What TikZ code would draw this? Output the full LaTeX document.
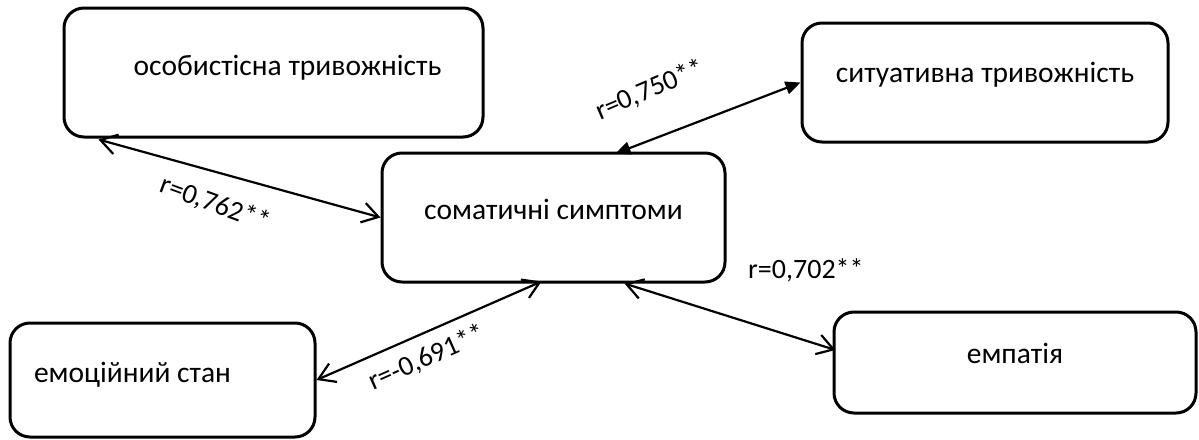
\documentclass[tikz,border=0pt]{standalone}
\usepackage{fontspec}
\setmainfont{Carlito}
\usetikzlibrary{arrows.meta,calc}
\begin{document}
\begin{tikzpicture}[x=1pt,y=-1pt,
  box/.style={draw, line width=3pt, rounded corners=20pt, inner sep=0pt},
  boxtext/.style={font=\fontsize{29.5}{35}\selectfont, anchor=base, inner sep=0pt},
  rlabel/.style={font=\fontsize{28}{32}\selectfont, inner sep=0pt},
  barb/.tip={Straight Barb[length=16pt,width=20pt,line width=2.2pt]},
  solidtip/.tip={Triangle[length=15pt,width=13pt]},
  link/.style={line width=2.2pt},
]
\useasboundingbox (0,0) rectangle (1199,439);

% boxes
\node (b1) [box, minimum width=419pt, minimum height=129pt] at (273.5,72.5) {};
\node (b2) [box, minimum width=366pt, minimum height=119pt] at (985,82.5) {};
\node (b3) [box, minimum width=343pt, minimum height=129pt] at (553.5,217.5) {};
\node (b4) [box, minimum width=305pt, minimum height=114pt] at (162.5,380) {};
\node (b5) [box, minimum width=362pt, minimum height=101pt] at (1015,362.5) {};

% box captions
\node (t1) [boxtext] at (287.5,75) {особистісна тривожність};
\node (t2) [boxtext] at (985,82) {ситуативна тривожність};
\node (t3) [boxtext] at (553.5,219) {соматичні симптоми};
\node (t4) [boxtext] at (132.5,382) {емоційний стан};
\node (t5) [boxtext] at (1015,363) {емпатія};

% correlations
\draw[link, barb-barb] ($(b1.south west)+(36,1)$) -- (b3.west);
\draw[link, solidtip-solidtip] ($(b3.north)+(62,2)$) -- (b2.west);
\draw[link, barb-barb] ($(b3.south)+(-12,-2)$) -- (b4.east);
\draw[link, barb-barb] ($(b3.south)+(71,0)$) -- ($(b5.west)+(3,-12.5)$);

% coefficients
\node (r1) [rlabel, rotate=-20] at (215,204) {r=0,762**};
\node (r2) [rlabel, rotate=23] at (650,90) {r=0,750**};
\node (r3) [rlabel, rotate=24] at (427,358) {r=-0,691**};
\node (r4) [rlabel, anchor=base west] at (748,278) {r=0,702**};
\end{tikzpicture}
\end{document}
